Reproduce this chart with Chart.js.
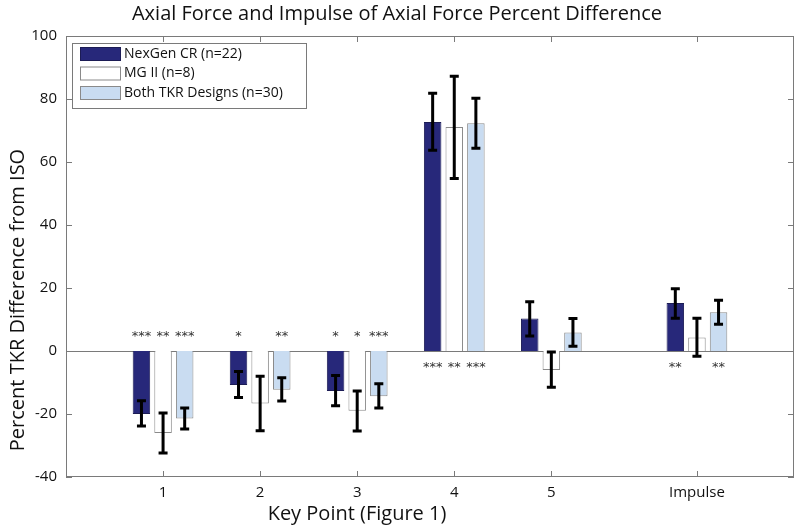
<!DOCTYPE html>
<html>
<head>
    <meta charset="utf-8">
    <title>Axial Force Percent Difference</title>
    <script src="https://cdn.jsdelivr.net/npm/chart.js"></script>
    <style>
        body { margin: 0; background: #fff; }
        #wrap { width: 800px; height: 530px; }
    </style>
</head>
<body>
    <div id="wrap"><canvas id="forceChart"></canvas></div>

    <script>
        // key points along the x axis (Impulse sits half a step further out)
        const keyPoints = ['1', '2', '3', '4', '5', 'Impulse'];
        const keyPositions = [1, 2, 3, 4, 5, 6.5];
        const seriesNames = ['NexGen CR (n=22)', 'MG II (n=8)', 'Both TKR Designs (n=30)'];

        const nexgen = [-20.0, -10.8, -12.7, 72.7, 10.3, 15.2];
        const nexgenLow = [-23.8, -14.8, -17.4, 63.7, 4.8, 10.4];
        const nexgenHigh = [-15.8, -6.5, -7.8, 81.8, 15.6, 19.8];

        const mg2 = [-26.0, -16.7, -19.0, 71.1, -6.0, 4.3];
        const mg2Low = [-32.4, -25.3, -25.4, 54.8, -11.5, -1.7];
        const mg2High = [-19.7, -8.0, -12.7, 87.2, -0.3, 10.4];

        const both = [-21.4, -12.3, -14.4, 72.3, 5.9, 12.3];
        const bothLow = [-24.8, -15.9, -18.1, 64.4, 1.5, 8.5];
        const bothHigh = [-18.1, -8.5, -10.4, 80.2, 10.3, 16.1];

        // significance stars per bar
        const nexgenSig = ['***', '*', '*', '***', '', '**'];
        const mg2Sig = ['**', '', '*', '**', '', ''];
        const bothSig = ['***', '**', '***', '***', '', '**'];

        const yTicks = [-40, -20, 0, 20, 40, 60, 80, 100];

        const FONT = '"Open Sans", sans-serif';
        const AXIS = '#7a7a7a';

        const toPoints = vals => vals.map((v, i) => ({ x: keyPositions[i], y: v }));

        const errLow = [nexgenLow, mg2Low, bothLow];
        const errHigh = [nexgenHigh, mg2High, bothHigh];
        const stars = [nexgenSig, mg2Sig, bothSig];

        // box, inward ticks and zero line like the matlab axes
        const frame = {
            id: 'frame',
            beforeDatasetsDraw(chart) {
                const { ctx, chartArea: a, scales } = chart;
                ctx.save();
                ctx.strokeStyle = AXIS;
                ctx.lineWidth = 1;
                const y0 = Math.round(scales.y.getPixelForValue(0)) + 0.5;
                ctx.beginPath();
                ctx.moveTo(a.left, y0);
                ctx.lineTo(a.right, y0);
                ctx.stroke();
                ctx.restore();
            },
            afterDatasetsDraw(chart) {
                const { ctx, chartArea: a, scales } = chart;
                ctx.save();

                // error bars
                ctx.strokeStyle = '#000';
                ctx.lineWidth = 3;
                chart.data.datasets.forEach((ds, d) => {
                    const meta = chart.getDatasetMeta(d);
                    meta.data.forEach((bar, i) => {
                        const lo = scales.y.getPixelForValue(errLow[d][i]);
                        const hi = scales.y.getPixelForValue(errHigh[d][i]);
                        ctx.beginPath();
                        ctx.moveTo(bar.x, lo);
                        ctx.lineTo(bar.x, hi);
                        ctx.moveTo(bar.x - 4.5, lo);
                        ctx.lineTo(bar.x + 4.5, lo);
                        ctx.moveTo(bar.x - 4.5, hi);
                        ctx.lineTo(bar.x + 4.5, hi);
                        ctx.stroke();
                    });
                });

                // stars on the other side of zero
                const y0 = scales.y.getPixelForValue(0);
                ctx.fillStyle = '#333';
                ctx.font = '13px "DejaVu Sans", sans-serif';
                ctx.textAlign = 'center';
                ctx.textBaseline = 'middle';
                chart.data.datasets.forEach((ds, d) => {
                    const meta = chart.getDatasetMeta(d);
                    meta.data.forEach((bar, i) => {
                        const s = stars[d][i];
                        if (!s) return;
                        const val = ds.data[i].y;
                        const y = val < 0 ? y0 - 14 : y0 + 17;
                        ctx.fillText(s, bar.x, y);
                    });
                });

                // outer box
                ctx.strokeStyle = AXIS;
                ctx.lineWidth = 1;
                ctx.strokeRect(a.left + 0.5, a.top + 0.5, a.right - a.left - 1, a.bottom - a.top - 1);
                ctx.beginPath();
                scales.x.ticks.forEach(t => {
                    const x = Math.round(scales.x.getPixelForValue(t.value)) + 0.5;
                    ctx.moveTo(x, a.bottom);
                    ctx.lineTo(x, a.bottom - 6);
                    ctx.moveTo(x, a.top);
                    ctx.lineTo(x, a.top + 6);
                });
                scales.y.ticks.forEach(t => {
                    const y = Math.round(scales.y.getPixelForValue(t.value)) + 0.5;
                    ctx.moveTo(a.left, y);
                    ctx.lineTo(a.left + 6, y);
                    ctx.moveTo(a.right, y);
                    ctx.lineTo(a.right - 6, y);
                });
                ctx.stroke();
                ctx.restore();
            },
            afterDraw(chart) {
                const { ctx } = chart;
                ctx.save();

                // axis titles (the original figure was cropped, so they sit off-centre)
                ctx.fillStyle = '#111';
                ctx.font = '20px ' + FONT;
                ctx.textAlign = 'center';
                ctx.textBaseline = 'middle';
                ctx.fillText('Key Point (Figure 1)', 357, 514);
                ctx.translate(18, 300);
                ctx.rotate(-Math.PI / 2);
                ctx.fillText('Percent TKR Difference from ISO', 0, 0);
                ctx.setTransform(1, 0, 0, 1, 0, 0);
                ctx.restore();

                // legend box in the upper left
                ctx.save();
                const lx = 72, ly = 43, lw = 234, lh = 65;
                ctx.fillStyle = '#fff';
                ctx.fillRect(lx, ly, lw, lh);
                ctx.strokeStyle = AXIS;
                ctx.lineWidth = 1;
                ctx.strokeRect(lx + 0.5, ly + 0.5, lw, lh);
                ctx.font = '14px ' + FONT;
                ctx.textBaseline = 'middle';
                ctx.textAlign = 'left';
                chart.data.datasets.forEach((ds, d) => {
                    const ry = ly + 4 + d * 19.5;
                    ctx.fillStyle = ds.backgroundColor;
                    ctx.fillRect(80, ry, 41, 13);
                    ctx.strokeStyle = ds.borderColor;
                    ctx.strokeRect(80.5, ry + 0.5, 40, 13);
                    ctx.fillStyle = '#111';
                    ctx.fillText(ds.label, 124, ry + 7);
                });
                ctx.restore();
            }
        };

        const ctx = document.getElementById('forceChart').getContext('2d');
        const chart = new Chart(ctx, {
            type: 'bar',
            data: {
                datasets: [{
                    label: seriesNames[0],
                    data: toPoints(nexgen),
                    backgroundColor: '#27287a',
                    borderColor: '#1c1c55',
                    borderWidth: 1
                }, {
                    label: seriesNames[1],
                    data: toPoints(mg2),
                    backgroundColor: '#ffffff',
                    borderColor: '#8a8a8a',
                    borderWidth: 1
                }, {
                    label: seriesNames[2],
                    data: toPoints(both),
                    backgroundColor: '#c9dcf1',
                    borderColor: '#8a8a8a',
                    borderWidth: 1
                }]
            },
            options: {
                responsive: true,
                maintainAspectRatio: false,
                animation: false,
                categoryPercentage: 0.668,
                barPercentage: 0.81,
                layout: { padding: { right: 6 } },
                plugins: {
                    legend: { display: false },
                    tooltip: { enabled: false },
                    title: {
                        display: true,
                        text: 'Axial Force and Impulse of Axial Force Percent Difference',
                        color: '#111',
                        font: { family: FONT, size: 20, weight: 'normal' },
                        padding: { top: 2, bottom: 10 }
                    }
                },
                scales: {
                    x: {
                        type: 'linear',
                        min: 0,
                        max: 7.5,
                        offset: false,
                        grid: { display: false, drawTicks: false, offset: false },
                        border: { display: false },
                        afterBuildTicks: s => { s.ticks = keyPositions.map(v => ({ value: v })); },
                        afterFit: s => { s.height = 53; },
                        ticks: {
                            autoSkip: false,
                            maxRotation: 0,
                            padding: 7,
                            color: '#111',
                            font: { family: FONT, size: 15 },
                            callback: v => keyPoints[keyPositions.indexOf(v)]
                        }
                    },
                    y: {
                        min: -40,
                        max: 100,
                        grid: { display: false, drawTicks: false },
                        border: { display: false },
                        afterBuildTicks: s => { s.ticks = yTicks.map(v => ({ value: v })); },
                        afterFit: s => { s.width = 66; },
                        ticks: {
                            padding: 9,
                            color: '#111',
                            font: { family: FONT, size: 15 }
                        }
                    }
                }
            },
            plugins: [frame]
        });
    </script>
</body>
</html>
